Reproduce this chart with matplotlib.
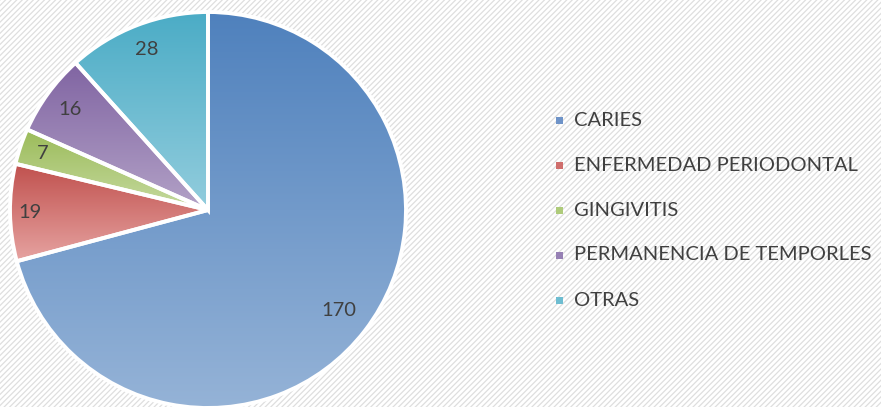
import numpy as np
import matplotlib
matplotlib.use("Agg")
import matplotlib.pyplot as plt
from matplotlib.patches import Wedge, Rectangle
from matplotlib.colors import to_rgb

categories = ["CARIES", "ENFERMEDAD PERIODONTAL", "GINGIVITIS", "PERMANENCIA DE TEMPORLES", "OTRAS"]
values = [170, 19, 7, 16, 28]
top_colors = ["#4F81BD", "#C0504D", "#9BBB59", "#8064A2", "#4BACC6"]
bottom_colors = ["#95B3D7", "#E6A3A1", "#C6DAA0", "#B3A2C7", "#93CDDD"]
legend_colors = ["#6E93C8", "#CF6E6C", "#AECB7A", "#9680B4", "#6EBDD1"]

W, H = 881, 407
plt.rcParams['hatch.linewidth'] = 0.9
fig = plt.figure(figsize=(W/100, H/100), dpi=100)
fig.patch.set_facecolor("white")
bg = fig.add_axes([0, 0, 1, 1])
bg.set_axis_off()
bg.add_patch(Rectangle((0, 0), 1, 1, transform=bg.transAxes, facecolor="white",
                       edgecolor="#dedede", hatch="//////", linewidth=0))

ax = fig.add_axes([0, 0, 1, 1])
ax.set_axis_off()
cx, cy, R = 208, 407 - 210, 198
ax.set_xlim(-cx, W - cx)
ax.set_ylim(-cy, H - cy)

total = sum(values)
start = 90.0
label_r = [0.83, 0.90, 0.88, 0.86, 0.87]
for i, (v, c1, c2) in enumerate(zip(values, top_colors, bottom_colors)):
    sweep = v / total * 360.0
    t1, t2 = start - sweep, start
    w = Wedge((0, 0), R, t1, t2, facecolor="none", edgecolor="white", linewidth=2.8, zorder=3)
    ax.add_patch(w)
    angs = np.linspace(np.radians(t1), np.radians(t2), 200)
    ys = np.concatenate([[0], R*np.sin(angs)])
    xs = np.concatenate([[0], R*np.cos(angs)])
    y0, y1 = ys.min(), ys.max()
    x0, x1 = xs.min(), xs.max()
    n = 256
    a = to_rgb(c1); b = to_rgb(c2)
    tt = np.linspace(0, 1, n)[:, None]
    grad = (np.array(a)[None, :] * (1 - tt) + np.array(b)[None, :] * tt)
    img = np.repeat(grad[:, None, :], 2, axis=1)
    im = ax.imshow(img, extent=[x0, x1, y0, y1], origin="upper", aspect="auto", zorder=2,
                   interpolation="bilinear")
    clip = Wedge((0, 0), R, t1, t2, transform=ax.transData)
    im.set_clip_path(clip)
    mid = np.radians((t1 + t2) / 2)
    ax.text(label_r[i]*R*np.cos(mid), label_r[i]*R*np.sin(mid), str(v), ha="center", va="center",
            fontsize=14.5, color="#404040", family="Lato", zorder=5)
    start = t1

ax.set_xlim(-cx, W - cx)
ax.set_ylim(-cy, H - cy)

# legend
ly = [120, 165, 210, 255, 300]
for cat, col, y in zip(categories, legend_colors, ly):
    fig.patches.append(Rectangle(((556)/W, 1 - (y+4)/H), 7/W, 7/H, transform=fig.transFigure,
                                 facecolor=col, edgecolor="none", zorder=5))
    fig.text(574/W, 1 - y/H, cat, ha="left", va="center", fontsize=14.5, color="#404040", family="Lato")

fig.savefig("out.png", dpi=100)
